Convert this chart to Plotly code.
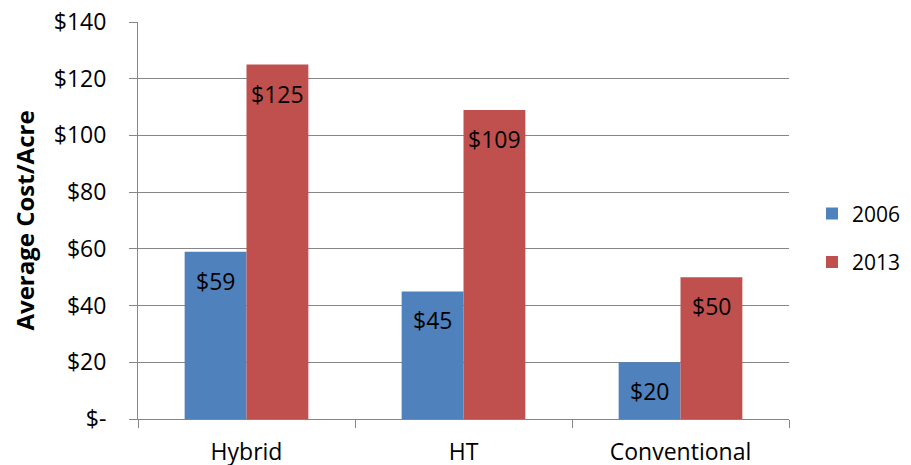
import plotly.graph_objects as go

categories = ["Hybrid", "HT", "Conventional"]
series_names = ["2006", "2013"]
values_2006 = [59, 45, 20]
values_2013 = [125, 109, 50]
y_tickvals = [0, 20, 40, 60, 80, 100, 120, 140]
y_ticktext = ["$-", "$20", "$40", "$60", "$80", "$100", "$120", "$140"]

colors = ["#4F81BD", "#C0504D"]
FONT = "Open Sans"
GRID = "#868686"
FS = 23

fig = go.Figure()
for name, vals, col in zip(series_names, [values_2006, values_2013], colors):
    fig.add_trace(go.Bar(
        x=categories, y=vals, name=name, marker=dict(color=col, line=dict(width=0)),
        legendgroup=name,
    ))

# data labels placed through axis scales
offset = 0.143
annotations = []
for i, cat in enumerate(categories):
    for vals, sign in ((values_2006, -1), (values_2013, 1)):
        annotations.append(dict(
            x=i + sign * offset, y=vals[i], xref="x", yref="y",
            text=f"${vals[i]}", showarrow=False, yshift=-29,
            font=dict(family=FONT, size=FS, color="#000000"),
        ))

fig.update_layout(
    width=911, height=465,
    margin=dict(l=130, r=130, t=14, b=54, autoexpand=False),
    paper_bgcolor="white", plot_bgcolor="white",
    font=dict(family=FONT, size=FS, color="#000000"),
    barmode="group", bargap=0.43, bargroupgap=0,
    showlegend=True,
    legend=dict(x=1.0353, y=0.456, xanchor="left", yanchor="middle",
                font=dict(family=FONT, size=21), tracegroupgap=18,
                bgcolor="rgba(0,0,0,0)"),
    annotations=annotations,
)
fig.update_xaxes(
    type="category", showline=True, linecolor=GRID, linewidth=1,
    ticks="outside", tickson="boundaries", ticklen=8, tickcolor=GRID,
    showgrid=False, tickfont=dict(family=FONT, size=FS), ticklabelstandoff=12,
)
fig.update_yaxes(
    range=[0, 140], tickvals=y_tickvals, ticktext=y_ticktext,
    showline=True, linecolor=GRID, linewidth=1,
    ticks="outside", ticklen=8, tickcolor=GRID,
    showgrid=True, gridcolor=GRID, gridwidth=1, zeroline=False,
    tickfont=dict(family=FONT, size=FS), ticklabelstandoff=18,
    ticklabeloverflow="allow",
    title=dict(text="<b>Average Cost/Acre</b>", font=dict(family=FONT, size=24), standoff=14),
)
fig.write_html("out.html")
